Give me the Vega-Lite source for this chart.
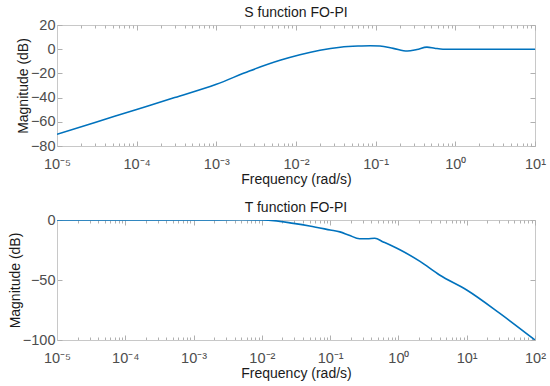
{
  "$schema": "https://vega.github.io/schema/vega-lite/v6.json",
  "padding": {"left": 7, "top": 5, "right": 8, "bottom": 0},
  "background": "white",
  "spacing": 13,
  "datasets": {
    "S": [
      {"f": 0.00001, "db": -70.3},
      {"f": 0.00003, "db": -60.5},
      {"f": 0.0001, "db": -49.8},
      {"f": 0.0003, "db": -40},
      {"f": 0.001, "db": -29},
      {"f": 0.0026, "db": -18},
      {"f": 0.0063, "db": -9.2},
      {"f": 0.0112, "db": -4.6},
      {"f": 0.02, "db": -0.9},
      {"f": 0.036, "db": 1.6},
      {"f": 0.06, "db": 2.6},
      {"f": 0.085, "db": 2.9},
      {"f": 0.113, "db": 2.6},
      {"f": 0.166, "db": 0.7},
      {"f": 0.25, "db": -1.5},
      {"f": 0.33, "db": -0.2},
      {"f": 0.44, "db": 1.7},
      {"f": 0.55, "db": 0.8},
      {"f": 0.7, "db": 0},
      {"f": 1, "db": -0.1},
      {"f": 3, "db": 0},
      {"f": 10, "db": 0}
    ],
    "T": [
      {"f": 0.00001, "db": 0},
      {"f": 0.001, "db": 0},
      {"f": 0.005, "db": 0.2},
      {"f": 0.01, "db": 0},
      {"f": 0.015, "db": -0.5},
      {"f": 0.029, "db": -2.8},
      {"f": 0.05, "db": -5},
      {"f": 0.1, "db": -8.3},
      {"f": 0.139, "db": -9.9},
      {"f": 0.19, "db": -12.7},
      {"f": 0.27, "db": -15.6},
      {"f": 0.35, "db": -15.6},
      {"f": 0.45, "db": -15.2},
      {"f": 0.6, "db": -18.3},
      {"f": 1.05, "db": -24.8},
      {"f": 2.07, "db": -34.5},
      {"f": 4, "db": -45.8},
      {"f": 10, "db": -58.3},
      {"f": 30.6, "db": -77.8},
      {"f": 100, "db": -100}
    ]
  },
  "config": {
    "font": "Liberation Sans",
    "view": {"stroke": "#c8c8c8", "strokeWidth": 1},
    "axis": {
      "grid": false,
      "domainColor": "#c8c8c8",
      "tickColor": "#b0b0b0",
      "labelColor": "#4d4d4d",
      "labelFont": "Liberation Sans",
      "labelFontSize": 14.5,
      "titleFont": "Liberation Sans",
      "titleFontSize": 14,
      "titleFontWeight": "normal",
      "titleColor": "#1a1a1a"
    },
    "title": {"font": "Liberation Sans", "fontSize": 14, "fontWeight": "normal", "color": "#1a1a1a", "offset": -3}
  },
  "vconcat": [
    {
      "title": "S function FO-PI",
      "width": 478,
      "height": 121,
      "data": {"name": "S"},
      "layer": [
        {
          "mark": {"type": "line", "color": "#0072BD", "strokeWidth": 1.6, "clip": true, "interpolate": "monotone"},
          "encoding": {
            "x": {
              "field": "f", "type": "quantitative",
              "scale": {"type": "log", "domain": [0.00001, 10], "nice": false},
              "axis": {
                "orient": "bottom",
                "title": "Frequency (rad/s)",
                "titlePadding": 0,
                "values": [0.00001,0.00002,0.00003,0.00004,0.00005,0.00006,0.00007,0.00008,0.00009,0.0001,0.0002,0.0003,0.0004,0.0005,0.0006,0.0007,0.0008,0.0009,0.001,0.002,0.003,0.004,0.005,0.006,0.007,0.008,0.009,0.01,0.02,0.03,0.04,0.05,0.06,0.07,0.08,0.09,0.1,0.2,0.3,0.4,0.5,0.6,0.7,0.8,0.9,1,2,3,4,5,6,7,8,9,10],
                "labelExpr": "abs(log(datum.value)/LN10 - round(log(datum.value)/LN10)) < 0.001 ? ['10⁻⁵','10⁻⁴','10⁻³','10⁻²','10⁻¹','10⁰','10¹','10²'][round(log(datum.value)/LN10)+5] : ''",
                "tickSize": {"condition": {"test": "abs(log(datum.value)/LN10 - round(log(datum.value)/LN10)) < 0.001", "value": -5}, "value": -3},
                "labelPadding": 16,
                "labelFlush": false,
                "labelOverlap": false
              }
            },
            "y": {
              "field": "db", "type": "quantitative",
              "scale": {"domain": [-80, 20], "nice": false},
              "axis": {
                "orient": "left",
                "title": "Magnitude (dB)",
                "values": [-80, -60, -40, -20, 0, 20],
                "tickSize": -5,
                "labelPadding": 7,
                "titlePadding": 0
              }
            }
          }
        },
        {
          "mark": {"type": "line", "opacity": 0},
          "encoding": {
            "x": {
              "field": "f", "type": "quantitative",
              "axis": {
                "orient": "top", "title": null, "labels": false, "domain": false,
                "values": [0.00001,0.00002,0.00003,0.00004,0.00005,0.00006,0.00007,0.00008,0.00009,0.0001,0.0002,0.0003,0.0004,0.0005,0.0006,0.0007,0.0008,0.0009,0.001,0.002,0.003,0.004,0.005,0.006,0.007,0.008,0.009,0.01,0.02,0.03,0.04,0.05,0.06,0.07,0.08,0.09,0.1,0.2,0.3,0.4,0.5,0.6,0.7,0.8,0.9,1,2,3,4,5,6,7,8,9,10],
                "tickSize": {"condition": {"test": "abs(log(datum.value)/LN10 - round(log(datum.value)/LN10)) < 0.001", "value": -5}, "value": -3}
              }
            },
            "y": {
              "field": "db", "type": "quantitative",
              "axis": {"orient": "right", "title": null, "labels": false, "domain": false, "values": [-80, -60, -40, -20, 0, 20], "tickSize": -5}
            }
          }
        }
      ]
    },
    {
      "title": "T function FO-PI",
      "width": 478,
      "height": 120,
      "data": {"name": "T"},
      "layer": [
        {
          "mark": {"type": "line", "color": "#0072BD", "strokeWidth": 1.6, "clip": true, "interpolate": "monotone"},
          "encoding": {
            "x": {
              "field": "f", "type": "quantitative",
              "scale": {"type": "log", "domain": [0.00001, 100], "nice": false},
              "axis": {
                "orient": "bottom",
                "title": "Frequency (rad/s)",
                "titlePadding": 0,
                "values": [0.00001,0.00002,0.00003,0.00004,0.00005,0.00006,0.00007,0.00008,0.00009,0.0001,0.0002,0.0003,0.0004,0.0005,0.0006,0.0007,0.0008,0.0009,0.001,0.002,0.003,0.004,0.005,0.006,0.007,0.008,0.009,0.01,0.02,0.03,0.04,0.05,0.06,0.07,0.08,0.09,0.1,0.2,0.3,0.4,0.5,0.6,0.7,0.8,0.9,1,2,3,4,5,6,7,8,9,10,20,30,40,50,60,70,80,90,100],
                "labelExpr": "abs(log(datum.value)/LN10 - round(log(datum.value)/LN10)) < 0.001 ? ['10⁻⁵','10⁻⁴','10⁻³','10⁻²','10⁻¹','10⁰','10¹','10²'][round(log(datum.value)/LN10)+5] : ''",
                "tickSize": {"condition": {"test": "abs(log(datum.value)/LN10 - round(log(datum.value)/LN10)) < 0.001", "value": -5}, "value": -3},
                "labelPadding": 16,
                "labelFlush": false,
                "labelOverlap": false
              }
            },
            "y": {
              "field": "db", "type": "quantitative",
              "scale": {"domain": [-100, 0], "nice": false},
              "axis": {
                "orient": "left",
                "title": "Magnitude (dB)",
                "values": [-100, -50, 0],
                "tickSize": -5,
                "labelPadding": 7,
                "titlePadding": 0
              }
            }
          }
        },
        {
          "mark": {"type": "line", "opacity": 0},
          "encoding": {
            "x": {
              "field": "f", "type": "quantitative",
              "axis": {
                "orient": "top", "title": null, "labels": false, "domain": false,
                "values": [0.00001,0.00002,0.00003,0.00004,0.00005,0.00006,0.00007,0.00008,0.00009,0.0001,0.0002,0.0003,0.0004,0.0005,0.0006,0.0007,0.0008,0.0009,0.001,0.002,0.003,0.004,0.005,0.006,0.007,0.008,0.009,0.01,0.02,0.03,0.04,0.05,0.06,0.07,0.08,0.09,0.1,0.2,0.3,0.4,0.5,0.6,0.7,0.8,0.9,1,2,3,4,5,6,7,8,9,10,20,30,40,50,60,70,80,90,100],
                "tickSize": {"condition": {"test": "abs(log(datum.value)/LN10 - round(log(datum.value)/LN10)) < 0.001", "value": -5}, "value": -3}
              }
            },
            "y": {
              "field": "db", "type": "quantitative",
              "axis": {"orient": "right", "title": null, "labels": false, "domain": false, "values": [-100, -50, 0], "tickSize": -5}
            }
          }
        }
      ]
    }
  ]
}
